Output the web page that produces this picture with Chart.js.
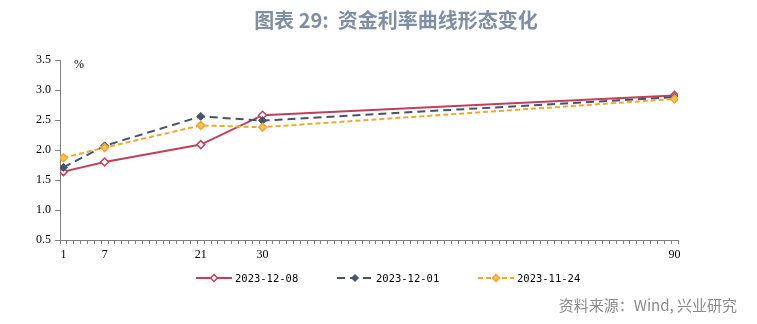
<!DOCTYPE html>
<html>
<head>
<meta charset="utf-8">
<script src="https://cdn.jsdelivr.net/npm/chart.js@4/dist/chart.umd.min.js"></script>
<style>
  html, body { margin: 0; padding: 0; background: #fff; }
  #wrap { position: relative; width: 757px; height: 324px; overflow: hidden; }
  #c { position: absolute; left: 0; top: 0; }
  #title { position: absolute; left: 240px; width: 312px; top: 5px; text-align: center;
    font-family: "Noto Sans CJK SC", sans-serif; font-weight: bold; font-size: 20px; color: #7f8ea3; white-space: nowrap; }
  #unit { position: absolute; left: 74px; top: 57px; font-family: "Liberation Serif", serif; font-size: 12px; color: #000; }
  #src { position: absolute; right: 20px; top: 294px; font-family: "Noto Sans CJK SC", sans-serif; font-size: 15px; color: #8a8a8a; white-space: nowrap; }
</style>
</head>
<body>
<div id="wrap">
  <canvas id="c" width="757" height="324"></canvas>
  <div id="title">图表 29:&nbsp;&nbsp;资金利率曲线形态变化</div>
  <div id="unit">%</div>
  <div id="src">资料来源：Wind, 兴业研究</div>
</div>
<script>
// Tenors (days)
const tenors = [1, 7, 21, 30, 90];
const labeledTicks = [1, 7, 21, 30, 90];
const seriesNames = ["2023-12-08", "2023-12-01", "2023-11-24"];
const s20231208 = [1.64, 1.80, 2.09, 2.58, 2.91];
const s20231201 = [1.71, 2.07, 2.56, 2.49, 2.88];
const s20231124 = [1.87, 2.04, 2.41, 2.38, 2.85];
const yTicks = [0.5, 1.0, 1.5, 2.0, 2.5, 3.0, 3.5];

const colors = ["#c0405a", "#44546a", "#f0a830"];
const dashes = [[], [8, 5], [5, 3]];
const styles = [
  { pointStyle: "rectRot", radius: 4, bg: "#ffffff", bw: 1.5 },
  { pointStyle: "rectRot", radius: 4, bg: "#44546a", bw: 1 },
  { pointStyle: "rectRot", radius: 4, bg: "#f5c060", bw: 1.5 }
];
const allSeries = [s20231208, s20231201, s20231124];

const datasets = allSeries.map((vals, i) => ({
  label: seriesNames[i],
  data: tenors.map((t, j) => ({ x: t, y: vals[j] })),
  borderColor: colors[i],
  backgroundColor: colors[i],
  borderWidth: 2,
  borderDash: dashes[i],
  pointStyle: styles[i].pointStyle,
  pointRadius: styles[i].radius,
  pointBackgroundColor: styles[i].bg,
  pointBorderColor: colors[i],
  pointBorderWidth: styles[i].bw,
  tension: 0,
  order: 3 - i
}));

const legendPlugin = {
  id: "customLegend",
  afterDraw(chart) {
    const ctx = chart.ctx;
    const y = 278;
    const starts = [196, 337, 478];
    chart.data.datasets.forEach((ds, i) => {
      const x0 = starts[i];
      ctx.save();
      ctx.strokeStyle = ds.borderColor;
      ctx.lineWidth = 2;
      ctx.setLineDash(ds.borderDash || []);
      ctx.beginPath();
      ctx.moveTo(x0, y);
      ctx.lineTo(x0 + 36, y);
      ctx.stroke();
      ctx.setLineDash([]);
      ctx.fillStyle = ds.pointBackgroundColor;
      ctx.strokeStyle = ds.pointBorderColor;
      ctx.lineWidth = ds.pointBorderWidth;
      Chart.helpers.drawPoint(ctx, { pointStyle: ds.pointStyle, radius: 3.5, rotation: 0, borderWidth: ds.pointBorderWidth }, x0 + 18, y);
      ctx.fillStyle = "#000";
      ctx.font = "10.5px 'DejaVu Sans Mono', monospace";
      ctx.textBaseline = "middle";
      ctx.textAlign = "left";
      ctx.fillText(ds.label, x0 + 39, y + 1);
      ctx.restore();
    });
  }
};

new Chart(document.getElementById("c"), {
  type: "line",
  data: { datasets },
  options: {
    responsive: false,
    animation: false,
    layout: { padding: { left: 0, right: 79, top: 60, bottom: 64 } },
    plugins: { legend: { display: false }, title: { display: false }, tooltip: { enabled: false } },
    scales: {
      x: {
        type: "linear",
        min: 0.5,
        max: 90.5,
        afterBuildTicks: (axis) => {
          const t = [];
          for (let i = 1; i <= 90; i++) t.push({ value: i });
          axis.ticks = t;
        },
        afterFit: (axis) => { axis.height = 20; },
        ticks: {
          autoSkip: false,
          maxRotation: 0,
          minRotation: 0,
          padding: 4,
          color: "#000",
          font: { family: "'Liberation Serif', serif", size: 12 },
          callback: (v) => labeledTicks.includes(v) ? String(v) : ""
        },
        grid: { display: true, drawOnChartArea: false, drawTicks: true, tickLength: 4, offset: true, color: "#808080", lineWidth: 1 },
        border: { display: true, color: "#808080", width: 1 }
      },
      y: {
        min: 0.5,
        max: 3.5,
        afterBuildTicks: (axis) => { axis.ticks = yTicks.map(v => ({ value: v })); },
        afterFit: (axis) => { axis.width = 60; },
        ticks: {
          color: "#000",
          padding: 4,
          font: { family: "'Liberation Serif', serif", size: 12 },
          callback: (v) => Number(v).toFixed(1)
        },
        grid: { display: true, drawOnChartArea: false, drawTicks: true, tickLength: 5, color: "#808080" },
        border: { display: true, color: "#808080", width: 1 }
      }
    }
  },
  plugins: [legendPlugin]
});
</script>
</body>
</html>
